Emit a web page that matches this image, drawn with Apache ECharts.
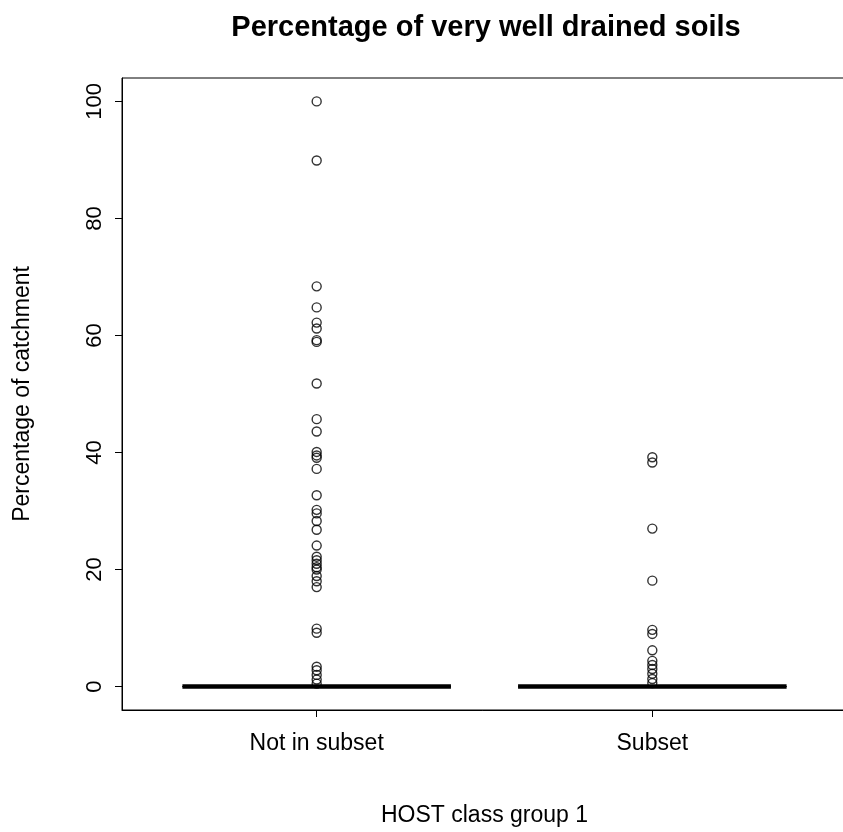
<!DOCTYPE html>
<html>
<head>
<meta charset="utf-8">
<script src="https://cdn.jsdelivr.net/npm/echarts@6/dist/echarts.min.js"></script>
<style>
html,body{margin:0;padding:0;background:#fff;}
#chart{width:843px;height:832px;}
</style>
</head>
<body>
<div id="chart"></div>
<script>
// ---- data ----
const categories = ['Not in subset', 'Subset'];
const groupPositions = [1, 2];
const lowerWhisker = [0, 0];
const q1 = [0, 0];
const medians = [0, 0];
const q3 = [0, 0];
const upperWhisker = [0, 0];
const outliersNotInSubset = [100, 89.9, 68.4, 64.8, 62.2, 61.2, 59.2, 58.9, 51.8, 45.7, 43.6, 40.1, 39.5, 39.1, 37.2, 32.7, 30.2, 29.6, 28.3, 26.8, 24.1, 22.2, 21.6, 21.0, 20.4, 20.0, 18.9, 18.0, 17.0, 9.9, 9.2, 3.4, 2.8, 2.0, 1.2, 0.5];
const outliersSubset = [39.2, 38.3, 27.0, 18.1, 9.7, 9.0, 6.2, 4.4, 3.7, 3.0, 2.2, 1.3, 0.6];
const yTicks = [0, 20, 40, 60, 80, 100];

const FONT = 'Liberation Sans, Arial, sans-serif';
const chart = echarts.init(document.getElementById('chart'), null, {renderer: 'canvas'});

const boxData = groupPositions.map((x, i) => [x, lowerWhisker[i], q1[i], medians[i], q3[i], upperWhisker[i]]);
const outlierData = []
  .concat(outliersNotInSubset.map(v => [groupPositions[0], v]))
  .concat(outliersSubset.map(v => [groupPositions[1], v]));

const halfBox = 0.4;
function renderBox(params, api) {
  const x = api.value(0);
  const lw = api.value(1), a = api.value(2), m = api.value(3), b = api.value(4), uw = api.value(5);
  const pL = api.coord([x - halfBox, m]);
  const pR = api.coord([x + halfBox, m]);
  const pQ1L = api.coord([x - halfBox, a]);
  const pQ3R = api.coord([x + halfBox, b]);
  const pLw = api.coord([x, lw]), pUw = api.coord([x, uw]);
  const pQ1 = api.coord([x, a]), pQ3 = api.coord([x, b]);
  const sL = api.coord([x - halfBox / 2, lw])[0], sR = api.coord([x + halfBox / 2, lw])[0];
  return {
    type: 'group',
    children: [
      {type: 'line', shape: {x1: pQ1[0], y1: pQ1[1], x2: pLw[0], y2: pLw[1]}, style: {stroke: '#000', lineWidth: 1, lineDash: [4, 3]}},
      {type: 'line', shape: {x1: pQ3[0], y1: pQ3[1], x2: pUw[0], y2: pUw[1]}, style: {stroke: '#000', lineWidth: 1, lineDash: [4, 3]}},
      {type: 'line', shape: {x1: sL, y1: pLw[1], x2: sR, y2: pLw[1]}, style: {stroke: '#000', lineWidth: 1}},
      {type: 'line', shape: {x1: sL, y1: pUw[1], x2: sR, y2: pUw[1]}, style: {stroke: '#000', lineWidth: 1}},
      {type: 'rect', shape: {x: pQ1L[0], y: Math.min(pQ1L[1], pQ3R[1]), width: pQ3R[0] - pQ1L[0], height: Math.abs(pQ1L[1] - pQ3R[1])}, style: {fill: 'none', stroke: '#000', lineWidth: 1}},
      {type: 'line', shape: {x1: pL[0], y1: pL[1], x2: pR[0], y2: pR[1]}, style: {stroke: '#000', lineWidth: 4.5, lineCap: 'butt'}}
    ]
  };
}

const option = {
  backgroundColor: '#fff',
  animation: false,
  title: {
    text: 'Percentage of very well drained soils',
    left: 481,
    top: 8,
    textAlign: 'center',
    textStyle: {fontFamily: FONT, fontSize: 29, fontWeight: 'bold', color: '#000'}
  },
  grid: {
    left: 122, top: 78, width: 725, height: 632,
    outerBoundsMode: 'none',
    containLabel: false,
    show: true, borderColor: '#000', borderWidth: 1, backgroundColor: 'transparent'
  },
  xAxis: {
    type: 'value',
    min: 0.42, max: 2.58,
    name: 'HOST class group 1',
    nameLocation: 'middle',
    nameGap: 94,
    nameTextStyle: {fontFamily: FONT, fontSize: 23, color: '#000'},
    axisLine: {show: true, onZero: false, lineStyle: {color: '#000', width: 1}},
    axisTick: {show: true, length: 7, customValues: groupPositions, lineStyle: {color: '#000'}},
    axisLabel: {
      customValues: groupPositions,
      margin: 22,
      fontFamily: FONT, fontSize: 23, color: '#000',
      formatter: v => categories[groupPositions.indexOf(v)] || ''
    },
    splitLine: {show: false}
  },
  yAxis: {
    type: 'value',
    min: -4, max: 104,
    name: 'Percentage of catchment',
    nameLocation: 'middle',
    nameRotate: 90,
    nameGap: 88,
    nameTextStyle: {fontFamily: FONT, fontSize: 23, color: '#000'},
    axisLine: {show: true, onZero: false, lineStyle: {color: '#000', width: 1}},
    axisTick: {show: true, length: 7, customValues: yTicks, lineStyle: {color: '#000'}},
    axisLabel: {
      customValues: yTicks,
      rotate: 90,
      margin: 16,
      fontFamily: FONT, fontSize: 22, color: '#000'
    },
    splitLine: {show: false}
  },
  series: [
    {
      type: 'custom',
      renderItem: renderBox,
      data: boxData,
      encode: {x: 0, y: [1, 2, 3, 4, 5]},
      z: 3
    },
    {
      type: 'scatter',
      data: outlierData,
      symbol: 'circle',
      symbolSize: 9,
      itemStyle: {color: 'rgba(255,255,255,0)', borderColor: '#000', borderWidth: 1.4},
      z: 4
    }
  ]
};
chart.setOption(option);
</script>
</body>
</html>
